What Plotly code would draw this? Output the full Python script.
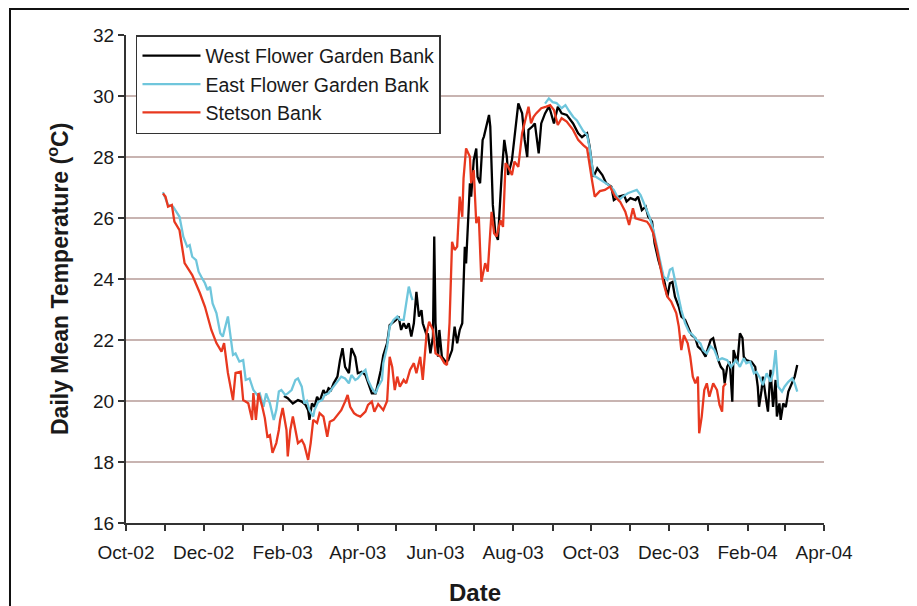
import plotly.graph_objects as go

# ---------------- data ----------------
west_dates = ["2003-02-02","2003-02-05","2003-02-09","2003-02-13","2003-02-16","2003-02-19","2003-02-21","2003-02-22","2003-02-24","2003-02-26","2003-02-28","2003-03-02","2003-03-05","2003-03-07","2003-03-09","2003-03-11","2003-03-13","2003-03-16","2003-03-18","2003-03-20","2003-03-22","2003-03-25","2003-03-27","2003-03-30","2003-04-01","2003-04-04","2003-04-07","2003-04-09","2003-04-12","2003-04-15","2003-04-17","2003-04-19","2003-04-21","2003-04-24","2003-04-26","2003-04-28","2003-05-01","2003-05-03","2003-05-05","2003-05-07","2003-05-09","2003-05-11","2003-05-13","2003-05-15","2003-05-17","2003-05-19","2003-05-21","2003-05-22","2003-05-25","2003-05-26","2003-05-28","2003-05-30","2003-05-31","2003-06-01","2003-06-03","2003-06-04","2003-06-06","2003-06-09","2003-06-11","2003-06-14","2003-06-16","2003-06-18","2003-06-20","2003-06-22","2003-06-23","2003-06-24","2003-06-25","2003-06-27","2003-06-28","2003-06-29","2003-07-01","2003-07-03","2003-07-04","2003-07-06","2003-07-08","2003-07-09","2003-07-11","2003-07-13","2003-07-14","2003-07-15","2003-07-16","2003-07-18","2003-07-20","2003-07-23","2003-07-25","2003-07-27","2003-07-28","2003-07-31","2003-08-02","2003-08-05","2003-08-08","2003-08-10","2003-08-12","2003-08-13","2003-08-16","2003-08-18","2003-08-21","2003-08-23","2003-08-26","2003-08-29","2003-08-30","2003-09-02","2003-09-05","2003-09-08","2003-09-12","2003-09-17","2003-09-21","2003-09-24","2003-09-28","2003-09-30","2003-10-03","2003-10-06","2003-10-10","2003-10-13","2003-10-17","2003-10-19","2003-10-23","2003-10-27","2003-10-29","2003-11-01","2003-11-05","2003-11-07","2003-11-10","2003-11-13","2003-11-15","2003-11-18","2003-11-20","2003-11-23","2003-11-26","2003-11-28","2003-11-30","2003-12-02","2003-12-04","2003-12-06","2003-12-09","2003-12-11","2003-12-14","2003-12-17","2003-12-19","2003-12-22","2003-12-24","2003-12-27","2003-12-30","2003-12-31","2004-01-03","2004-01-05","2004-01-07","2004-01-09","2004-01-11","2004-01-13","2004-01-14","2004-01-16","2004-01-18","2004-01-20","2004-01-21","2004-01-24","2004-01-26","2004-01-28","2004-01-29","2004-01-31","2004-02-04","2004-02-07","2004-02-09","2004-02-10","2004-02-12","2004-02-13","2004-02-16","2004-02-17","2004-02-19","2004-02-21","2004-02-23","2004-02-24","2004-02-26","2004-02-27","2004-02-29","2004-03-02","2004-03-04","2004-03-07","2004-03-09","2004-03-11"]
west_temp = [20.16,20.09,19.92,20.03,19.98,19.87,19.70,19.38,19.92,19.81,20.14,19.98,20.36,20.20,20.42,20.36,20.58,20.80,21.34,21.73,21.12,20.91,21.73,21.45,20.91,20.96,20.85,20.58,20.25,20.25,20.58,21.00,21.50,21.90,22.49,22.55,22.66,22.77,22.33,22.55,22.38,22.55,22.11,22.55,23.58,22.77,22.98,22.55,22.16,22.22,21.56,22.11,25.39,22.55,21.45,22.33,21.45,21.29,21.34,21.67,22.44,21.89,22.33,22.55,24.08,25.06,24.51,26.04,27.14,26.70,27.90,28.28,27.35,27.14,28.56,28.67,29.00,29.38,29.00,27.30,26.43,25.50,25.28,27.47,28.56,28.00,27.41,27.90,28.67,29.76,29.43,28.56,28.00,28.89,29.00,29.10,28.12,29.10,29.43,29.65,29.54,29.10,29.65,29.43,29.38,29.10,28.78,28.65,28.78,28.34,27.35,27.63,27.41,27.14,27.03,26.59,26.70,26.75,26.54,26.65,26.59,26.70,26.26,26.37,26.04,25.88,25.17,24.62,24.19,23.86,23.42,23.86,23.90,23.42,23.09,22.77,22.66,22.33,22.16,22.06,21.78,21.67,21.45,21.60,22.00,22.06,21.73,21.34,21.12,21.02,20.58,21.12,21.29,19.98,21.67,21.24,22.22,22.06,21.45,21.34,21.29,21.12,20.47,19.81,20.36,20.80,19.92,19.65,21.02,19.81,20.69,19.49,19.92,19.38,19.92,19.80,20.31,20.63,20.80,21.18]

east_dates = ["2002-10-30","2002-11-03","2002-11-07","2002-11-10","2002-11-12","2002-11-15","2002-11-18","2002-11-20","2002-11-22","2002-11-25","2002-11-27","2002-11-29","2002-12-02","2002-12-04","2002-12-06","2002-12-08","2002-12-11","2002-12-14","2002-12-16","2002-12-20","2002-12-22","2002-12-24","2002-12-26","2002-12-29","2003-01-01","2003-01-03","2003-01-06","2003-01-09","2003-01-12","2003-01-14","2003-01-17","2003-01-19","2003-01-22","2003-01-25","2003-01-27","2003-01-29","2003-01-31","2003-02-03","2003-02-05","2003-02-08","2003-02-11","2003-02-13","2003-02-16","2003-02-18","2003-02-20","2003-02-22","2003-02-25","2003-02-26","2003-03-01","2003-03-04","2003-03-06","2003-03-09","2003-03-12","2003-03-14","2003-03-17","2003-03-19","2003-03-22","2003-03-25","2003-03-27","2003-03-30","2003-04-01","2003-04-04","2003-04-07","2003-04-09","2003-04-12","2003-04-15","2003-04-17","2003-04-20","2003-04-21","2003-04-24","2003-04-26","2003-04-29","2003-05-02","2003-05-04","2003-05-07","2003-05-09","2003-05-11","2003-05-13","2003-05-14","2003-05-15","2003-08-26","2003-08-29","2003-09-01","2003-09-04","2003-09-08","2003-09-11","2003-09-14","2003-09-17","2003-09-20","2003-09-23","2003-09-25","2003-09-28","2003-09-30","2003-10-03","2003-10-07","2003-10-11","2003-10-15","2003-10-19","2003-10-23","2003-10-26","2003-10-30","2003-11-02","2003-11-06","2003-11-09","2003-11-11","2003-11-14","2003-11-16","2003-11-19","2003-11-22","2003-11-24","2003-11-27","2003-11-30","2003-12-02","2003-12-04","2003-12-06","2003-12-09","2003-12-11","2003-12-14","2003-12-17","2003-12-20","2003-12-23","2003-12-26","2003-12-28","2003-12-31","2004-01-03","2004-01-06","2004-01-09","2004-01-12","2004-01-16","2004-01-19","2004-01-23","2004-01-26","2004-01-29","2004-01-31","2004-02-03","2004-02-06","2004-02-08","2004-02-11","2004-02-13","2004-02-16","2004-02-19","2004-02-21","2004-02-23","2004-02-25","2004-02-28","2004-03-01","2004-03-04","2004-03-07","2004-03-09","2004-03-11"]
east_temp = [26.85,26.43,26.37,26.15,26.04,25.39,25.06,25.11,24.73,24.62,24.24,24.08,23.86,23.64,23.75,23.20,22.88,22.22,22.11,22.77,22.22,21.51,21.56,21.29,21.34,20.69,20.74,20.36,20.20,20.25,19.81,20.25,19.92,19.38,19.70,20.31,20.36,20.20,20.25,20.36,20.69,20.74,20.47,19.92,20.00,19.70,19.49,19.70,19.98,20.03,20.20,20.25,20.42,20.52,20.69,20.80,20.74,20.58,20.85,20.69,20.74,20.91,21.02,20.69,20.42,20.25,20.47,20.69,21.24,21.78,22.44,22.66,22.77,22.66,22.66,23.20,23.75,23.42,23.31,None,29.75,29.92,29.80,29.77,29.60,29.70,29.50,29.32,29.20,29.00,28.85,28.72,28.30,27.40,27.30,27.19,27.08,26.92,26.59,26.70,26.81,26.86,26.92,26.75,26.53,26.26,26.04,25.61,25.06,24.62,24.08,23.97,24.30,24.35,23.91,23.37,22.98,22.55,22.27,22.16,22.00,21.89,21.67,21.56,21.80,21.67,21.34,21.40,21.34,21.12,21.34,21.12,21.40,21.24,21.29,20.91,20.96,20.74,20.52,20.91,20.63,20.91,21.67,20.47,20.31,20.47,20.63,20.74,20.58,20.31]

stetson_dates = ["2002-10-30","2002-11-01","2002-11-03","2002-11-06","2002-11-08","2002-11-12","2002-11-16","2002-11-22","2002-11-28","2002-12-02","2002-12-07","2002-12-11","2002-12-15","2002-12-17","2002-12-20","2002-12-24","2002-12-26","2002-12-30","2003-01-01","2003-01-05","2003-01-08","2003-01-09","2003-01-11","2003-01-13","2003-01-16","2003-01-18","2003-01-20","2003-01-22","2003-01-24","2003-01-27","2003-01-29","2003-01-30","2003-02-01","2003-02-04","2003-02-05","2003-02-07","2003-02-09","2003-02-12","2003-02-13","2003-02-16","2003-02-18","2003-02-21","2003-02-23","2003-02-25","2003-02-28","2003-03-02","2003-03-05","2003-03-08","2003-03-10","2003-03-13","2003-03-16","2003-03-19","2003-03-22","2003-03-24","2003-03-26","2003-03-29","2003-03-31","2003-04-03","2003-04-07","2003-04-09","2003-04-12","2003-04-14","2003-04-17","2003-04-21","2003-04-24","2003-04-26","2003-04-28","2003-04-30","2003-05-02","2003-05-04","2003-05-07","2003-05-09","2003-05-12","2003-05-15","2003-05-17","2003-05-20","2003-05-22","2003-05-25","2003-05-27","2003-05-30","2003-06-01","2003-06-05","2003-06-08","2003-06-10","2003-06-12","2003-06-14","2003-06-16","2003-06-18","2003-06-20","2003-06-22","2003-06-23","2003-06-25","2003-06-28","2003-06-29","2003-07-01","2003-07-03","2003-07-05","2003-07-07","2003-07-10","2003-07-12","2003-07-15","2003-07-17","2003-07-19","2003-07-22","2003-07-24","2003-07-26","2003-07-28","2003-07-31","2003-08-02","2003-08-05","2003-08-08","2003-08-10","2003-08-13","2003-08-15","2003-08-17","2003-08-19","2003-08-23","2003-08-27","2003-08-30","2003-09-02","2003-09-05","2003-09-08","2003-09-12","2003-09-17","2003-09-21","2003-09-25","2003-09-28","2003-10-02","2003-10-04","2003-10-08","2003-10-12","2003-10-16","2003-10-20","2003-10-24","2003-10-28","2003-10-31","2003-11-03","2003-11-05","2003-11-10","2003-11-14","2003-11-16","2003-11-19","2003-11-22","2003-11-24","2003-11-27","2003-11-30","2003-12-03","2003-12-07","2003-12-09","2003-12-11","2003-12-13","2003-12-16","2003-12-18","2003-12-20","2003-12-22","2003-12-24","2003-12-25","2003-12-27","2003-12-29","2003-12-31","2004-01-02","2004-01-05","2004-01-08","2004-01-10","2004-01-12","2004-01-13","2004-01-15"]
stetson_temp = [26.80,26.70,26.37,26.43,25.88,25.60,24.52,24.13,23.54,23.09,22.33,21.90,21.62,21.90,20.92,20.03,20.92,20.96,20.03,19.93,19.38,20.26,19.38,20.26,19.81,19.44,18.83,18.88,18.30,18.62,19.05,19.38,19.77,19.05,18.18,19.05,19.49,18.83,18.62,18.72,18.56,18.07,18.62,19.38,19.28,19.60,19.49,18.83,19.32,19.38,19.54,19.70,19.98,20.20,19.81,19.60,19.54,19.49,19.65,19.87,19.98,19.65,19.90,19.70,20.00,21.45,21.12,20.36,20.80,20.47,20.69,20.58,21.02,21.24,20.91,21.45,20.69,22.22,22.60,22.33,21.56,21.45,21.24,21.18,22.55,25.22,24.95,25.06,26.70,26.04,27.30,28.28,28.01,27.14,27.57,25.83,26.04,23.91,24.52,24.24,26.20,25.50,25.39,25.93,25.71,27.80,27.68,27.41,27.85,27.68,28.78,29.10,29.65,29.10,29.32,29.43,29.60,29.65,29.70,29.54,29.05,29.27,29.16,28.89,28.56,28.39,28.28,27.20,26.70,26.88,26.92,27.03,26.70,26.53,26.21,25.77,26.32,25.99,25.93,25.88,25.77,25.50,24.95,24.51,23.86,23.42,23.26,22.88,22.44,21.67,22.16,21.89,21.45,20.80,20.58,20.80,18.94,19.49,20.36,20.58,20.14,20.58,20.36,19.87,19.65,20.47,20.58]

series_names = ["West Flower Garden Bank", "East Flower Garden Bank", "Stetson Bank"]
series_colors = ["#000000", "#6fc6dc", "#e8381f"]

y_ticks = [16, 18, 20, 22, 24, 26, 28, 30, 32]

# ---------------- figure ----------------
fig = go.Figure()
for name, xs, ys, col in zip(series_names,
                             [west_dates, east_dates, stetson_dates],
                             [west_temp, east_temp, stetson_temp],
                             series_colors):
    fig.add_trace(go.Scatter(x=xs, y=ys, mode="lines", name=name,
                             line=dict(color=col, width=2.3),
                             connectgaps=False))

FONT = "Liberation Sans, Arial, sans-serif"
grid_col = "#c8b4b1"
axis_col = "#333333"

fig.update_layout(
    width=917, height=606,
    margin=dict(l=118, r=101, t=27, b=91),
    paper_bgcolor="white", plot_bgcolor="white",
    font=dict(family=FONT, color="#1a1a1a"),
    showlegend=True,
    legend=dict(x=0.0143, y=1.0, xanchor="left", yanchor="top",
                bgcolor="white", bordercolor="#333333", borderwidth=1.5,
                font=dict(size=19.5, family=FONT, color="#1a1a1a"),
                tracegroupgap=0, itemwidth=58),
    xaxis=dict(type="date", range=["2002-10-01", "2004-04-01"],
               tick0="2002-10-01", dtick="M2", tickformat="%b-%y",
               ticks="outside", ticklen=6, tickwidth=1.5, tickcolor=axis_col,
               showline=True, linecolor=axis_col, linewidth=2,
               showgrid=False, zeroline=False, ticklabelstandoff=5,
               tickfont=dict(size=19, family=FONT, color="#1a1a1a"),
               minor=dict(dtick="M1", tick0="2002-10-01", ticks="outside",
                          ticklen=6, tickwidth=1.5, tickcolor=axis_col,
                          showgrid=False)),
    yaxis=dict(range=[16, 32], tickvals=y_ticks,
               ticks="outside", ticklen=6, tickwidth=1.5, tickcolor=axis_col,
               showline=True, linecolor=axis_col, linewidth=2,
               showgrid=True, gridcolor=grid_col, gridwidth=1.6,
               zeroline=False,
               tickfont=dict(size=19, family=FONT, color="#1a1a1a")),
    annotations=[
        dict(text="Daily Mean Temperature (<sup>o</sup>C)", xref="paper", yref="paper",
             x=-0.0974, y=0.5, xanchor="center", yanchor="middle", textangle=-90,
             showarrow=False, font=dict(size=23, family=FONT, color="#1a1a1a", weight="bold")),
        dict(text="<b>Date</b>", xref="paper", yref="paper",
             x=0.5, y=-0.1414, xanchor="center", yanchor="middle",
             showarrow=False, font=dict(size=24, family=FONT, color="#1a1a1a")),
    ],
    shapes=[
        dict(type="rect", xref="paper", yref="paper",
             x0=-0.1662, x1=1.1261, y0=-0.25, y1=1.0533,
             line=dict(color="#111111", width=2), fillcolor="rgba(0,0,0,0)", layer="below"),
    ],
)

fig.write_html("out.html")
